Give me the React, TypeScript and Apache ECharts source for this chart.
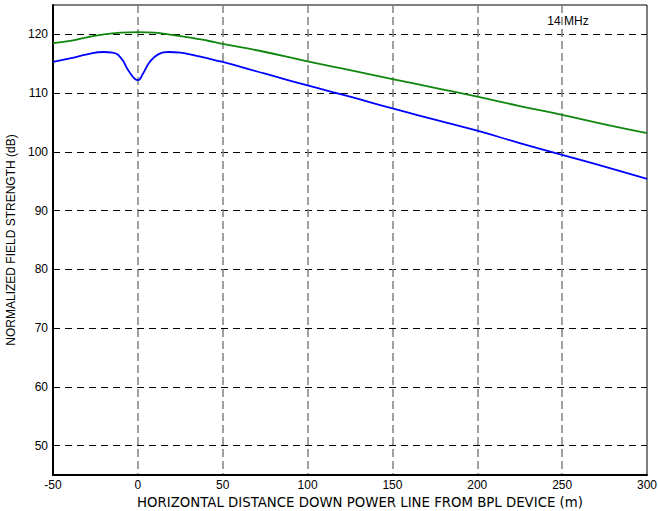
import React, { useEffect, useRef } from "react";
import * as echarts from "echarts";

const greenX = [-50, -40, -30, -20, -10, 0, 10, 20, 30, 40, 50, 75, 100, 125, 150, 175, 200, 225, 250, 275, 300];
const greenY = [118.5, 118.9, 119.5, 120.0, 120.3, 120.4, 120.3, 119.9, 119.5, 119.0, 118.4, 117.0, 115.4, 113.9, 112.4, 110.9, 109.4, 107.8, 106.3, 104.7, 103.2];

const blueX = [-50, -40, -30, -20, -15, -10, -5, 0, 3, 7, 12, 18, 25, 32, 40, 50, 75, 100, 125, 150, 175, 200, 225, 250, 275, 300];
const blueY = [115.3, 115.9, 116.6, 117.0, 116.9, 116.0, 113.6, 112.2, 113.3, 115.3, 116.6, 117.0, 116.9, 116.5, 116.0, 115.3, 113.3, 111.3, 109.4, 107.4, 105.5, 103.6, 101.5, 99.5, 97.5, 95.4];

const xTickLabels = [-50, 0, 50, 100, 150, 200, 250, 300];
const xGridValues = [0, 50, 100, 150, 200, 250];
const yTickLabels = [50, 60, 70, 80, 90, 100, 110, 120];

const xTitle = "HORIZONTAL DISTANCE DOWN POWER LINE FROM BPL DEVICE (m)";
const yTitle = "NORMALIZED FIELD STRENGTH (dB)";
const annotation = "14 MHz";

export default function App() {
  const ref = useRef<HTMLDivElement>(null);
  useEffect(() => {
    if (!ref.current) return;
    const chart = echarts.init(ref.current, null, { renderer: "svg" });
    const font = "'Liberation Sans', Arial, sans-serif";
    chart.setOption({
      animation: false,
      backgroundColor: "#ffffff",
      grid: {
        left: 53,
        right: 11,
        top: 5,
        bottom: 36,
        outerBoundsMode: "none",
        containLabel: false,
        show: true,
        borderColor: "#000",
        borderWidth: 1,
        backgroundColor: "transparent",
      },
      xAxis: {
        type: "value",
        min: -50,
        max: 300,
        name: xTitle,
        nameLocation: "middle",
        nameGap: 20,
        nameTextStyle: {
          color: "#000",
          fontSize: 13.3,
          fontFamily: "'DejaVu Sans', sans-serif",
          padding: [0, 0, 0, 20],
        },
        axisLine: { show: true, onZero: false, lineStyle: { color: "#000", width: 2 } },
        axisTick: { show: false, customValues: xGridValues },
        axisLabel: {
          customValues: xTickLabels,
          color: "#000",
          fontSize: 12,
          fontFamily: font,
          margin: 4,
        },
        splitLine: {
          show: true,
          lineStyle: { color: "#808080", width: 1.5, type: [8, 4] },
        },
      },
      yAxis: {
        type: "value",
        min: 45,
        max: 125,
        name: yTitle,
        nameLocation: "middle",
        nameGap: 35,
        nameTextStyle: { color: "#000", fontSize: 12, fontFamily: font },
        axisLine: { show: true, onZero: false, lineStyle: { color: "#000", width: 2 } },
        axisTick: { show: false, customValues: yTickLabels },
        axisLabel: {
          customValues: yTickLabels,
          color: "#000",
          fontSize: 12,
          fontFamily: font,
          margin: 5,
        },
        splitLine: {
          show: true,
          lineStyle: { color: "#000", width: 1, type: [7, 5] },
        },
      },
      graphic: [
        {
          type: "text",
          x: 568,
          y: 21,
          style: {
            text: annotation,
            fill: "#000",
            font: `12px ${font}`,
            align: "center",
            verticalAlign: "middle",
          },
        },
      ],
      series: [
        {
          type: "line",
          data: greenX.map((x, i) => [x, greenY[i]]),
          smooth: true,
          showSymbol: false,
          lineStyle: { color: "#0f870f", width: 1.8 },
          z: 3,
        },
        {
          type: "line",
          data: blueX.map((x, i) => [x, blueY[i]]),
          smooth: true,
          showSymbol: false,
          lineStyle: { color: "#0000ff", width: 1.8 },
          z: 3,
        },
      ],
    });
    return () => chart.dispose();
  }, []);
  return <div ref={ref} style={{ width: 658, height: 511, position: "absolute", left: 0, top: 0 }} />;
}
